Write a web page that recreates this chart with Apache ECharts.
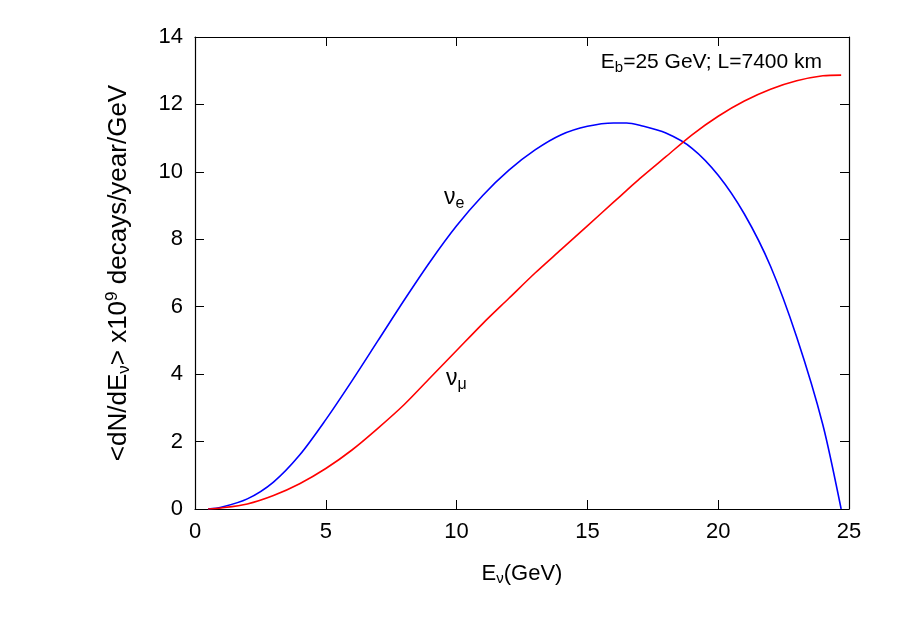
<!DOCTYPE html>
<html><head><meta charset="utf-8">
<script src="https://cdn.jsdelivr.net/npm/echarts@6/dist/echarts.min.js"></script>
<style>html,body{margin:0;background:#fff}#c{width:900px;height:630px}</style>
</head><body><div id="c"></div>
<script>
// energy grid (GeV)
var energy = [0.5,1,2,3,4,5,6,7,8,9,10,11,12,13,14,15,16,16.5,17,18,19,20,21,22,23,24,24.7];
var nuE =    [0,0.05,0.3,0.8,1.6,2.65,3.8,5.0,6.2,7.35,8.4,9.3,10.05,10.65,11.1,11.35,11.45,11.45,11.38,11.15,10.7,9.9,8.75,7.2,5.1,2.5,0];
var nuMu =   [0,0.03,0.15,0.4,0.75,1.2,1.75,2.4,3.1,3.9,4.7,5.5,6.25,7.0,7.7,8.4,9.1,9.45,9.8,10.45,11.1,11.65,12.1,12.45,12.7,12.85,12.87];
var yTicks = [0,2,4,6,8,10,12,14];

function pairs(xs, ys){ return xs.map(function(x,i){ return [x, ys[i]]; }); }

var chart = echarts.init(document.getElementById('c'));
var font = 'Liberation Sans';
function axisCommon(extra){
    return Object.assign({
        min: 0, axisLine: {show: true, onZero: false, lineStyle: {color: '#000', width: 1.2}},
        axisTick: {show: true, inside: true, length: 9, lineStyle: {color: '#000'}},
        splitLine: {show: false}
    }, extra);
}
chart.setOption({
    animation: false,
    textStyle: {fontFamily: font},
    grid: {left: 195, right: 51, top: 37, bottom: 121},
    xAxis: [
        axisCommon({type: 'value', max: 25, interval: 5,
            axisLabel: {fontSize: 22, color: '#000', margin: 12},
            name: 'E{s|ν}(GeV)', nameLocation: 'middle', nameGap: 52,
            nameTextStyle: {fontSize: 22, color: '#000', rich: {s: {fontSize: 15, padding: [10,0,0,0]}}}
        }),
        axisCommon({type: 'value', max: 25, interval: 5, position: 'top', axisLabel: {show: false}})
    ],
    yAxis: [
        axisCommon({type: 'value', max: 14, interval: 2,
            axisLabel: {fontSize: 22, color: '#000', margin: 12},
            name: '<dN/dE{s|ν}> x10{p|9} decays/year/GeV', nameLocation: 'middle', nameGap: 62,
            nameTextStyle: {fontSize: 26, color: '#000', rich: {
                s: {fontSize: 17, padding: [12,0,0,0]},
                p: {fontSize: 17, padding: [0,0,12,0]}}}
        }),
        axisCommon({type: 'value', max: 14, interval: 2, position: 'right', axisLabel: {show: false}})
    ],
    series: [
        {type: 'line', data: pairs(energy, nuE), smooth: 0.3, showSymbol: false,
         lineStyle: {color: '#0000ff', width: 1.6}},
        {type: 'line', data: pairs(energy, nuMu), smooth: 0.3, showSymbol: false,
         lineStyle: {color: '#ff0000', width: 1.6}}
    ],
    graphic: [
        {type: 'text', right: 78, top: 52, style: {text: 'E{s|b}=25 GeV; L=7400 km', fontSize: 21, fontFamily: font, fill: '#000',
            rich: {s: {fontSize: 15, padding: [10,0,0,0], fontFamily: font}}}},
        {type: 'text', left: 444, top: 186, style: {text: 'ν{s|e}', fontSize: 23, fontFamily: font, fill: '#000',
            rich: {s: {fontSize: 16, padding: [12,0,0,0], fontFamily: font}}}},
        {type: 'text', left: 446, top: 367, style: {text: 'ν{s|μ}', fontSize: 23, fontFamily: font, fill: '#000',
            rich: {s: {fontSize: 16, padding: [12,0,0,0], fontFamily: font}}}}
    ]
});
</script>
</body></html>
